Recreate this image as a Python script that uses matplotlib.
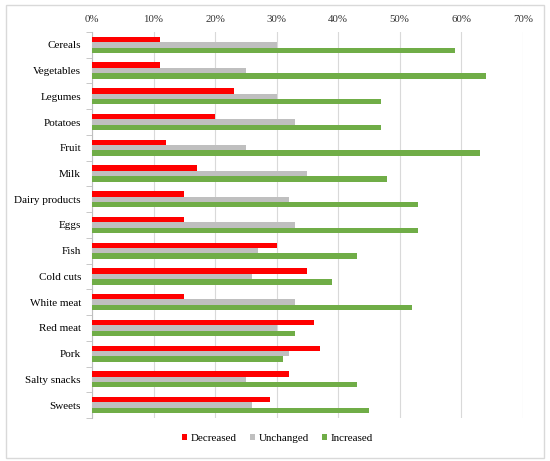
import matplotlib.pyplot as plt
import numpy as np
from matplotlib.patches import Rectangle
from matplotlib.ticker import PercentFormatter

# Data
foods = ['Cereals', 'Vegetables', 'Legumes', 'Potatoes', 'Fruit', 'Milk',
         'Dairy products', 'Eggs', 'Fish', 'Cold cuts', 'White meat',
         'Red meat', 'Pork', 'Salty snacks', 'Sweets']
decreased = [11, 11, 23, 20, 12, 17, 15, 15, 30, 35, 15, 36, 37, 32, 29]
unchanged = [30, 25, 30, 33, 25, 35, 32, 33, 27, 26, 33, 30, 32, 25, 26]
increased = [59, 64, 47, 47, 63, 48, 53, 53, 43, 39, 52, 33, 31, 43, 45]

plt.rcParams['font.family'] = 'Liberation Serif'

fig = plt.figure(figsize=(5.5, 4.61), dpi=100)
ax = fig.add_axes([0.1673, 0.0933, 0.7832, 0.8373])

y = np.arange(len(foods))
h = 0.21
ax.barh(y - h, decreased, height=h, color='#FF0000', label='Decreased', zorder=3)
ax.barh(y, unchanged, height=h, color='#BFBFBF', label='Unchanged', zorder=3)
ax.barh(y + h, increased, height=h, color='#70AD47', label='Increased', zorder=3)

ax.set_xlim(0, 70)
ax.set_ylim(len(foods) - 0.5, -0.5)
ax.set_xticks(range(0, 71, 10))
ax.xaxis.set_major_formatter(PercentFormatter(decimals=0))
ax.xaxis.tick_top()
ax.tick_params(axis='x', length=0, labelsize=7.8, colors='#333333', pad=6)
ax.grid(axis='x', color='#D9D9D9', linewidth=0.8, zorder=0)

ax.set_yticks(y)
ax.set_yticklabels(foods)
ax.set_yticks(np.arange(-0.5, len(foods), 1), minor=True)
ax.tick_params(axis='y', which='major', length=0, labelsize=8.0, pad=8)
ax.tick_params(axis='y', which='minor', length=4, color='#BFBFBF')

for s in ['top', 'right', 'bottom']:
    ax.spines[s].set_visible(False)
ax.spines['left'].set_color('#BFBFBF')

ax.legend(loc='center', bbox_to_anchor=(0.43, -0.052), ncol=3, frameon=False,
          fontsize=7.9, handlelength=0.5, handleheight=0.5, columnspacing=1.2,
          handletextpad=0.3, borderpad=0)

fig.patches.append(Rectangle((0.0109, 0.0065), 0.978, 0.983, transform=fig.transFigure,
                             fill=False, edgecolor='#D9D9D9', linewidth=1))

fig.savefig('out.png', dpi=100)
